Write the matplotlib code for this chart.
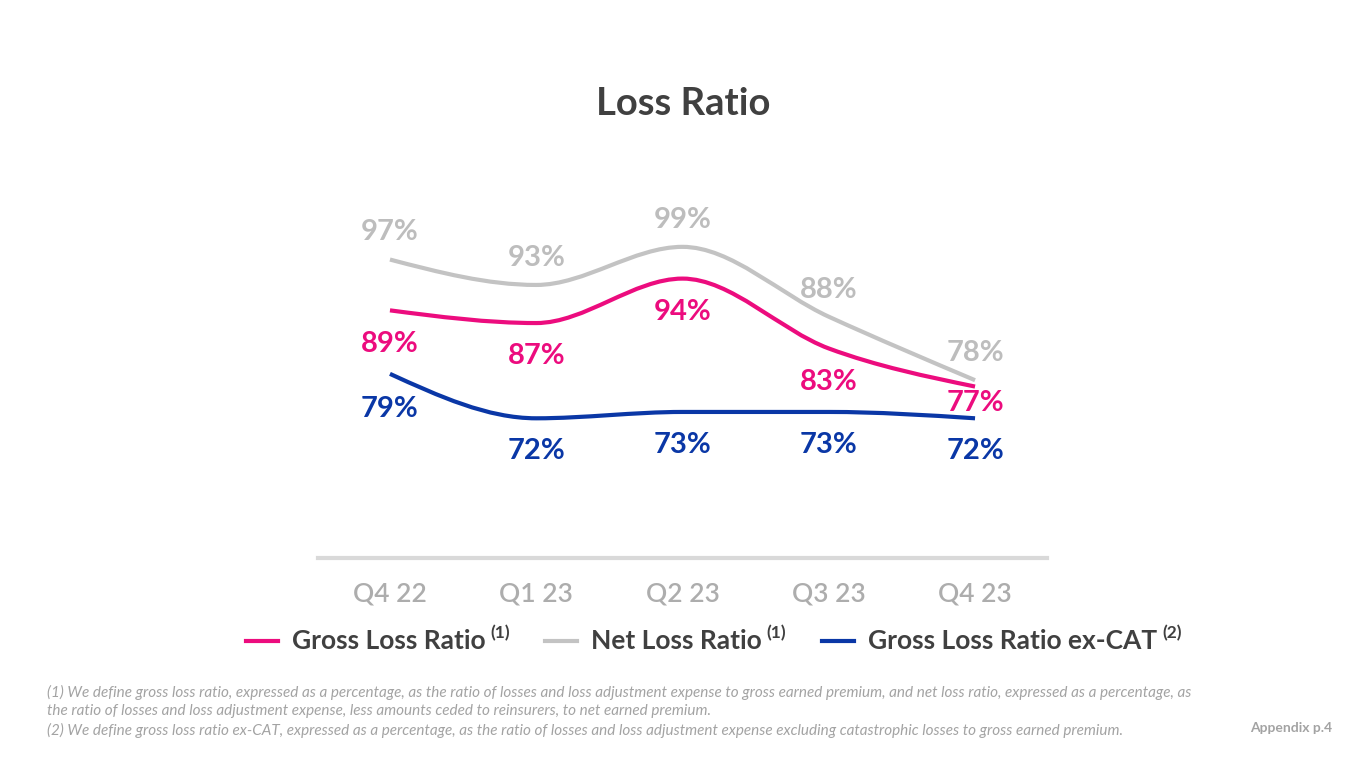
import matplotlib
matplotlib.use("Agg")
import matplotlib.pyplot as plt
from matplotlib.path import Path
from matplotlib.patches import PathPatch
from matplotlib.lines import Line2D
import numpy as np

plt.rcParams['font.family'] = ['Lato', 'DejaVu Sans']

# dati
quarters = ["Q4 22", "Q1 23", "Q2 23", "Q3 23", "Q4 23"]
gross_loss = [89, 87, 94, 83, 77]
net_loss = [97, 93, 99, 88, 78]
gross_ex_cat = [79, 72, 73, 73, 72]

PINK = "#EC0C7E"
GRAY = "#C3C3C3"
BLUE = "#0A37A6"
TXT = "#404040"

W, H = 1365, 768


def monotone_path(x, y):
    # curva liscia tipo d3.curveMonotoneX, disegnata con bezier cubiche
    x = np.asarray(x, float)
    y = np.asarray(y, float)
    h = np.diff(x)
    s = np.diff(y) / h
    n = len(x)
    t = np.zeros(n)
    for i in range(1, n - 1):
        p = (s[i - 1] * h[i] + s[i] * h[i - 1]) / (h[i - 1] + h[i])
        t[i] = (np.sign(s[i - 1]) + np.sign(s[i])) * min(abs(s[i - 1]), abs(s[i]), 0.5 * abs(p))
    t[0] = (3 * s[0] - t[1]) / 2
    t[-1] = (3 * s[-1] - t[-2]) / 2
    verts = [(x[0], y[0])]
    codes = [Path.MOVETO]
    for i in range(n - 1):
        dx = (x[i + 1] - x[i]) / 3
        verts += [(x[i] + dx, y[i] + dx * t[i]), (x[i + 1] - dx, y[i + 1] - dx * t[i + 1]), (x[i + 1], y[i + 1])]
        codes += [Path.CURVE4] * 3
    return Path(verts, codes)


fig = plt.figure(figsize=(W / 100, H / 100), dpi=100)
ax = fig.add_axes([318 / W, 1 - 558 / H, 729 / W, 358 / H])
ax.set_xlim(-0.492, 4.492)
ax.set_ylim(50, 50 + 358 / 6.35)

xs = np.arange(len(quarters))
series = [
    (net_loss, GRAY, "#BDBDBD", 19.5),
    (gross_loss, PINK, PINK, -24),
    (gross_ex_cat, BLUE, BLUE, -23.5),
]
for vals, col, tcol, off in series:
    ax.add_patch(PathPatch(monotone_path(xs, vals), fill=False, edgecolor=col, lw=3, capstyle="butt"))
    for i, v in enumerate(vals):
        o = off
        if vals is gross_loss and i == len(vals) - 1:
            o = -11.5
        if vals is gross_ex_cat and i == 0:
            o = -25
        ax.annotate(f"{v}%", (i, v), xytext=(0, o), textcoords="offset points",
                    ha="center", va="center", fontsize=21, fontweight="bold", color=tcol)

for sp in ["top", "left", "right"]:
    ax.spines[sp].set_visible(False)
ax.spines["bottom"].set_color("#D9D9D9")
ax.spines["bottom"].set_linewidth(3)
ax.set_yticks([])
ax.set_xticks(xs)
ax.set_xticklabels(quarters, fontsize=19, fontweight="semibold", color="#ADADAD")
ax.tick_params(axis="x", length=0, pad=17)

fig.text(683 / W, 1 - 104 / H, "Loss Ratio", ha="center", va="center",
         fontsize=27.5, fontweight="bold", color=TXT)

# legenda fatta a mano per avere gli apici
fig.canvas.draw()
r = fig.canvas.get_renderer()
ly = 1 - 641 / H
for x0, col, lab, note in [(246, PINK, "Gross Loss Ratio", "(1)"),
                           (545, GRAY, "Net Loss Ratio", "(1)"),
                           (822, BLUE, "Gross Loss Ratio ex-CAT", "(2)")]:
    fig.add_artist(Line2D([x0 / W, (x0 + 32) / W], [ly, ly], color=col, lw=3))
    t = fig.text((x0 + 46) / W, ly, lab, fontsize=19, fontweight="bold", color=TXT, va="center")
    bb = t.get_window_extent(renderer=r)
    fig.text((bb.x1 + 5) / W, ly + 8 / H, note, fontsize=12.5, fontweight="bold", color=TXT, va="center")

notes = [
    "(1) We define gross loss ratio, expressed as a percentage, as the ratio of losses and loss adjustment expense to gross earned premium, and net loss ratio, expressed as a percentage, as",
    "the ratio of losses and loss adjustment expense, less amounts ceded to reinsurers, to net earned premium.",
    "(2) We define gross loss ratio ex-CAT, expressed as a percentage, as the ratio of losses and loss adjustment expense excluding catastrophic losses to gross earned premium.",
]
for k, line in enumerate(notes):
    fig.text(47 / W, 1 - (692 + 19 * k) / H, line, fontsize=11.0, style="italic",
             color="#A3A3A3", va="center")
fig.text(1332 / W, 1 - 728 / H, "Appendix p.4", fontsize=10, fontweight="bold",
         color="#A3A3A3", ha="right", va="center")

fig.savefig("out.png", dpi=100)
